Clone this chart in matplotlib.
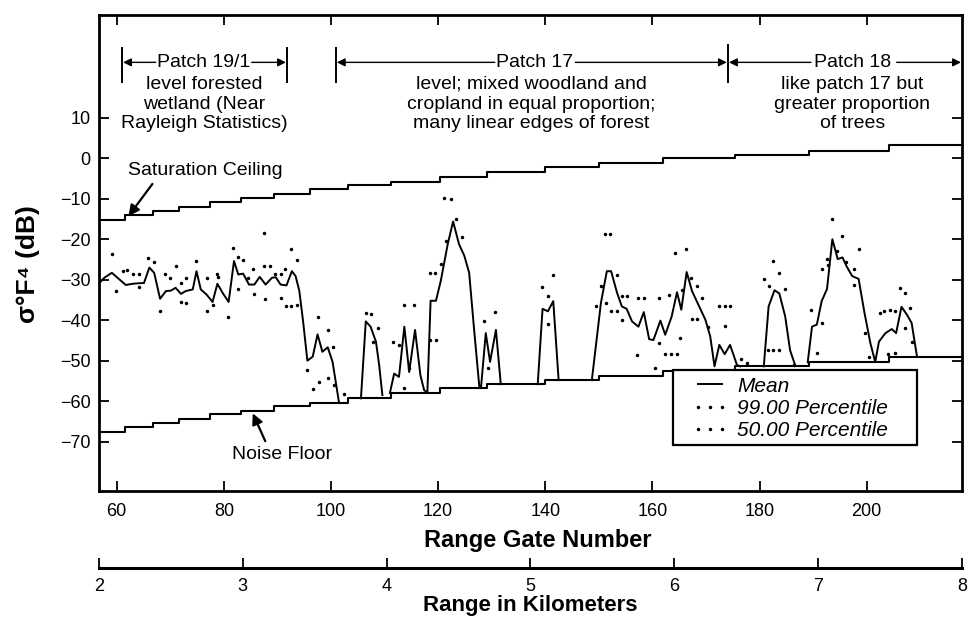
import numpy as np
import matplotlib
matplotlib.use("Agg")
import matplotlib.pyplot as plt
from matplotlib.lines import Line2D
from matplotlib.patches import Rectangle
from matplotlib.font_manager import FontProperties

plt.rcParams['font.family'] = ['Liberation Sans', 'DejaVu Sans']

# ---------------- data ----------------
nan = np.nan
mean_gate = [56.8, 57.7, 59.1, 60.5, 61.7, 63.0, 63.9, 65.1, 66.1, 67.0, 68.1, 69.2, 70.1, 71.0,
             72.0, 72.9, 74.2, 74.9, 75.7, 76.8, 77.9, 78.8, 79.8, 80.9, 81.9, 82.7, 83.6, 84.7,
             85.7, 86.7, 87.8, 89.0, 89.7, 90.6, 91.7, 92.7, 93.4, 94.1, 94.8, 95.6, 96.6, 97.5,
             98.4, 99.4, 100.3, 100.9, 101.5, nan,
             105.6, 106.5, 107.4, 108.4, 109.0, 109.6, nan,
             111.0, 111.8, 112.7, 113.7, 114.6, 115.7, 116.7, 117.4, 118.0, 118.6, 119.6, 120.5,
             121.8, 122.8, 123.9, 124.9, 125.8, 126.7, 127.7, 128.0, 128.9, 129.7, 130.8, 131.7, nan,
             138.6, 139.5, 140.5, 141.5, 142.5, nan,
             148.7, 150.4, 151.5, 152.3, 153.4, 154.3, 155.2, 156.2, 157.4, 158.4, 159.4, 160.2,
             161.5, 162.4, 163.6, 164.6, 165.4, 166.4, 167.4, 168.6, 169.9, 170.8, 171.6, 172.5,
             173.5, 174.5, 175.8, 176.4, nan,
             180.8, 181.7, 182.8, 183.7, 184.8, 185.7, 186.7, nan,
             189.0, 189.8, 190.7, 191.6, 192.6, 193.6, 194.6, 195.5, 196.3, 197.3, 198.5, 199.6,
             200.7, 201.6, 202.3, 203.5, 204.7, 205.5, 206.5, 207.5, 208.4, 209.4]
mean_db = [-30.8, -29.5, -28.3, -29.9, -31.3, -31.0, -30.9, -30.8, -27.0, -28.3, -34.7, -32.8, -32.7, -32.0,
           -33.5, -32.8, -32.4, -27.9, -32.4, -33.7, -35.5, -31.0, -33.3, -35.5, -25.4, -28.7, -28.5, -31.2,
           -31.2, -29.3, -31.2, -29.5, -29.4, -31.2, -31.4, -27.9, -29.1, -32.8, -40.3, -50.0, -49.0, -43.5,
           -47.8, -46.7, -50.3, -55.3, -60.3, nan,
           -59.3, -40.3, -41.6, -45.3, -51.1, -58.5, nan,
           -58.0, -53.2, -54.0, -41.6, -52.8, -42.4, -53.6, -57.3, -57.9, -35.2, -35.2, -30.3,
           -21.2, -15.6, -21.2, -24.1, -28.3, -42.0, -56.5, -56.8, -43.2, -50.3, -42.4, -55.8, nan,
           -55.8, -37.2, -37.8, -35.3, -54.8, nan,
           -54.8, -35.7, -27.9, -27.9, -33.2, -36.6, -37.2, -40.3, -41.6, -38.0, -44.7, -44.9,
           -40.1, -43.6, -39.1, -33.1, -37.4, -28.1, -32.8, -36.2, -39.9, -44.0, -51.4, -46.1,
           -48.4, -46.1, -51.1, -51.4, nan,
           -51.4, -36.6, -32.6, -33.4, -39.1, -47.4, -51.3, nan,
           -50.4, -41.6, -41.1, -35.3, -32.3, -20.0, -24.9, -24.5, -26.8, -29.1, -29.8, -38.2,
           -45.7, -50.3, -45.3, -43.2, -42.2, -43.2, -36.7, -38.6, -40.7, -49.0]

p99_gate = [59.1, 61.1, 62.0, 63.0, 64.1, 65.9, 66.9, 69.0, 69.9, 71.0, 72.9, 74.8, 76.8, 78.8,
            81.7, 82.7, 83.6, 85.5, 87.5, 87.5, 88.6, 89.6, 90.6, 91.5, 92.5, 93.6, 97.5, 99.5,
            100.3, 106.5, 107.4, 108.7, 111.5, 113.7, 115.5, 118.5, 119.5, 120.5, 121.4, 121.1,
            122.4, 123.4, 124.4, 128.6, 130.7, 139.4, 140.5, 141.4, 149.5, 150.4, 151.2, 152.1,
            153.4, 154.3, 155.2, 157.4, 158.4, 161.3, 163.1, 164.3, 165.5, 166.3, 167.3, 168.3,
            169.2, 172.5, 173.5, 174.5, 180.9, 181.7, 182.6, 183.6, 184.7, 191.6, 192.6, 193.5,
            195.4, 197.6, 198.5, 203.2, 204.4, 205.3, 206.3, 207.2, 208.1]
p99_db = [-23.7, -27.9, -27.7, -28.7, -28.7, -24.7, -25.5, -28.5, -29.5, -26.6, -29.5, -25.4, -29.5, -28.7,
          -22.2, -24.4, -25.2, -27.4, -18.5, -26.6, -26.6, -28.7, -28.7, -27.4, -22.3, -25.2, -39.3, -42.4,
          -46.5, -38.2, -38.4, -42.0, -45.3, -36.2, -36.2, -28.3, -28.3, -26.2, -20.4, -9.8,
          -10.0, -15.0, -19.4, -40.1, -38.0, -31.8, -33.9, -28.9, -36.6, -31.6, -18.7, -18.7,
          -28.9, -33.9, -33.9, -34.6, -34.6, -34.6, -33.7, -23.4, -32.6, -22.5, -29.5, -31.6,
          -34.5, -36.6, -36.6, -36.6, -29.9, -31.6, -25.4, -28.4, -32.4, -27.4, -24.9, -15.1,
          -19.3, -27.3, -22.3, -37.8, -37.4, -37.8, -32.0, -33.2, -37.0]

p50_gate = [59.8, 64.2, 68.1, 72.0, 72.0, 73.0, 76.8, 77.9, 79.0, 80.7, 82.7, 84.6, 85.7, 87.7,
            90.6, 91.6, 92.5, 93.6, 95.6, 96.6, 97.7, 99.5, 100.6, 102.5, 107.8, 112.7, 113.7,
            114.6, 118.5, 119.6, 129.4, 140.5, 151.3, 152.3, 153.4, 154.4, 157.2, 160.4, 161.3,
            162.4, 163.5, 164.6, 165.2, 167.4, 168.3, 170.4, 173.6, 176.6, 177.6, 181.6, 182.6,
            183.7, 186.5, 189.6, 190.7, 191.6, 192.8, 194.5, 196.1, 197.7, 199.6, 200.4, 202.5,
            204.0, 205.3, 207.2, 208.4]
p50_db = [-32.8, -31.8, -37.7, -30.8, -35.5, -35.7, -37.7, -36.3, -29.4, -39.3, -32.4, -29.5, -33.5, -34.7,
          -34.5, -36.6, -36.6, -36.3, -52.4, -56.9, -55.3, -54.3, -56.1, -58.2, -45.3, -46.1, -56.8,
          -51.9, -44.9, -44.9, -51.9, -40.9, -35.7, -37.8, -37.8, -39.9, -48.6, -51.7, -45.7,
          -48.4, -48.4, -48.4, -44.5, -39.7, -39.7, -41.6, -41.4, -49.7, -50.5, -47.4, -47.4,
          -47.4, -51.1, -37.4, -48.2, -40.7, -26.4, -22.9, -25.6, -31.4, -43.2, -49.0, -38.1,
          -48.4, -48.2, -42.0, -45.3]

# gate at which each ceiling / floor level begins (last entry = right end)
step_gate = [56.7, 61.6, 66.7, 71.7, 77.5, 83.3, 89.3, 96.0, 103.1, 111.3, 120.4, 129.2,
             140.0, 150.1, 161.9, 175.4, 189.2, 204.1, 217.8]
ceiling_db = [-15.3, -14.1, -13.1, -12.1, -10.9, -9.9, -8.7, -7.7, -6.7, -5.9, -4.7, -3.5,
              -2.2, -1.1, 0.0, 0.9, 1.8, 3.3, 3.3]
floor_db = [-67.7, -66.4, -65.4, -64.4, -63.2, -62.5, -61.2, -60.5, -59.3, -58.0, -56.8, -55.8,
            -54.8, -53.8, -52.6, -51.4, -50.4, -49.1, -49.1]

gate_ticks = [60, 80, 100, 120, 140, 160, 180, 200]
db_ticks = [10, 0, -10, -20, -30, -40, -50, -60, -70]
km_ticks = [2, 3, 4, 5, 6, 7, 8]

# ---------------- figure ----------------
W, H = 969, 631
fig = plt.figure(figsize=(W / 100, H / 100), dpi=100)
L, R, T, B = 99, 962, 15, 491
ax = fig.add_axes([L / W, 1 - B / H, (R - L) / W, (B - T) / H])
ax.set_xlim(56.7, 217.8)
ax.set_ylim(-82.2, 35.4)

ax.plot(step_gate, ceiling_db, color='black', lw=1.5, drawstyle='steps-post')
ax.plot(step_gate, floor_db, color='black', lw=1.5, drawstyle='steps-post')
ax.plot(mean_gate, mean_db, color='black', lw=1.4)
ax.plot(p99_gate, p99_db, ls='none', marker='o', ms=1.5, color='black')
ax.plot(p50_gate, p50_db, ls='none', marker='o', ms=1.5, color='black')

for s in ax.spines.values():
    s.set_linewidth(2.0)
ax.set_xticks(gate_ticks)
ax.set_yticks(db_ticks)
ax.tick_params(direction='in', top=True, right=True, length=7, width=1.3,
               labelsize=13, pad=6)
ax.tick_params(axis='x', pad=9)

# ---------------- annotations ----------------
tfs = 14
ax.text(76.2, 23.7, 'Patch 19/1', ha='center', va='center', fontsize=tfs)
ax.text(76.3, 13.4, 'level forested\nwetland (Near\nRayleigh Statistics)', ha='center',
        va='center', fontsize=tfs, linespacing=1.22)
ax.text(138.1, 23.7, 'Patch 17', ha='center', va='center', fontsize=tfs)
ax.text(137.4, 13.4, 'level; mixed woodland and\ncropland in equal proportion;\nmany linear edges of forest',
        ha='center', va='center', fontsize=tfs, linespacing=1.22)
ax.text(197.3, 23.7, 'Patch 18', ha='center', va='center', fontsize=tfs)
ax.text(197.3, 13.4, 'like patch 17 but\ngreater proportion\nof trees', ha='center', va='center',
        fontsize=tfs, linespacing=1.22)

for g, top in [(61.0, 27.2), (91.8, 27.2), (100.9, 27.2), (174.1, 27.9)]:
    ax.plot([g, g], [top, 18.8], color='black', lw=1.4)

arrow_kw = dict(arrowstyle='-|>', color='black', lw=1.0, mutation_scale=12,
                shrinkA=0, shrinkB=0)
for x0, x1 in [(67.3, 61.2), (85.2, 91.6), (130.6, 101.1), (145.6, 173.9),
               (189.6, 174.3), (205.6, 217.6)]:
    ax.annotate('', xy=(x1, 23.7), xytext=(x0, 23.7), arrowprops=arrow_kw)

ax.annotate('Saturation Ceiling', xy=(62.2, -14.3), xytext=(76.6, -3.0), ha='center',
            va='center', fontsize=tfs,
            arrowprops=dict(arrowstyle='-|>', color='black', lw=1.6, mutation_scale=16,
                            relpos=(0.18, 0.0), shrinkA=2, shrinkB=0))
ax.annotate('Noise Floor', xy=(85.4, -63.0), xytext=(90.8, -73.3), ha='center',
            va='center', fontsize=tfs,
            arrowprops=dict(arrowstyle='-|>', color='black', lw=1.6, mutation_scale=16,
                            relpos=(0.36, 1.0), shrinkA=2, shrinkB=0))

# ---------------- legend ----------------
ax.add_patch(Rectangle((0.665, 0.0966), 0.2827, 0.1576, transform=ax.transAxes,
                       facecolor='white', edgecolor='black', lw=1.6, zorder=4))
handles = [Line2D([], [], color='black', lw=1.4),
           Line2D([], [], ls='none', marker='o', ms=1.5, color='black'),
           Line2D([], [], ls='none', marker='o', ms=1.5, color='black')]
leg = ax.legend(handles, ['Mean', '99.00 Percentile', '50.00 Percentile'],
                loc='upper left', bbox_to_anchor=(0.687, 0.240),
                prop=FontProperties(family='Liberation Sans', style='italic', size=15),
                frameon=False, numpoints=3, handlelength=1.75, handletextpad=0.41,
                labelspacing=0.15, borderpad=0, borderaxespad=0)
leg.set_zorder(5)

# ---------------- axis titles ----------------
fig.text(538 / W, 1 - 540 / H, 'Range Gate Number', ha='center', va='center',
         fontsize=17, fontweight='bold')
fig.text(28 / W, 1 - 264 / H, 'σ°F⁴ (dB)', ha='center', va='center', rotation=90,
         fontsize=19, fontweight='bold')

# ---------------- km axis ----------------
ax2 = fig.add_axes([L / W, 1 - 568 / H, (R - L) / W, 0.0001])
ax2.set_xlim(2, 8)
for side in ['top', 'left', 'right']:
    ax2.spines[side].set_visible(False)
ax2.spines['bottom'].set_linewidth(2.2)
ax2.set_yticks([])
ax2.set_xticks(km_ticks)
ax2.tick_params(axis='x', direction='in', length=7, width=1.3, labelsize=13, pad=7)
fig.text(530 / W, 1 - 605 / H, 'Range in Kilometers', ha='center', va='center',
         fontsize=16, fontweight='bold')

fig.savefig('out.png', dpi=100)
